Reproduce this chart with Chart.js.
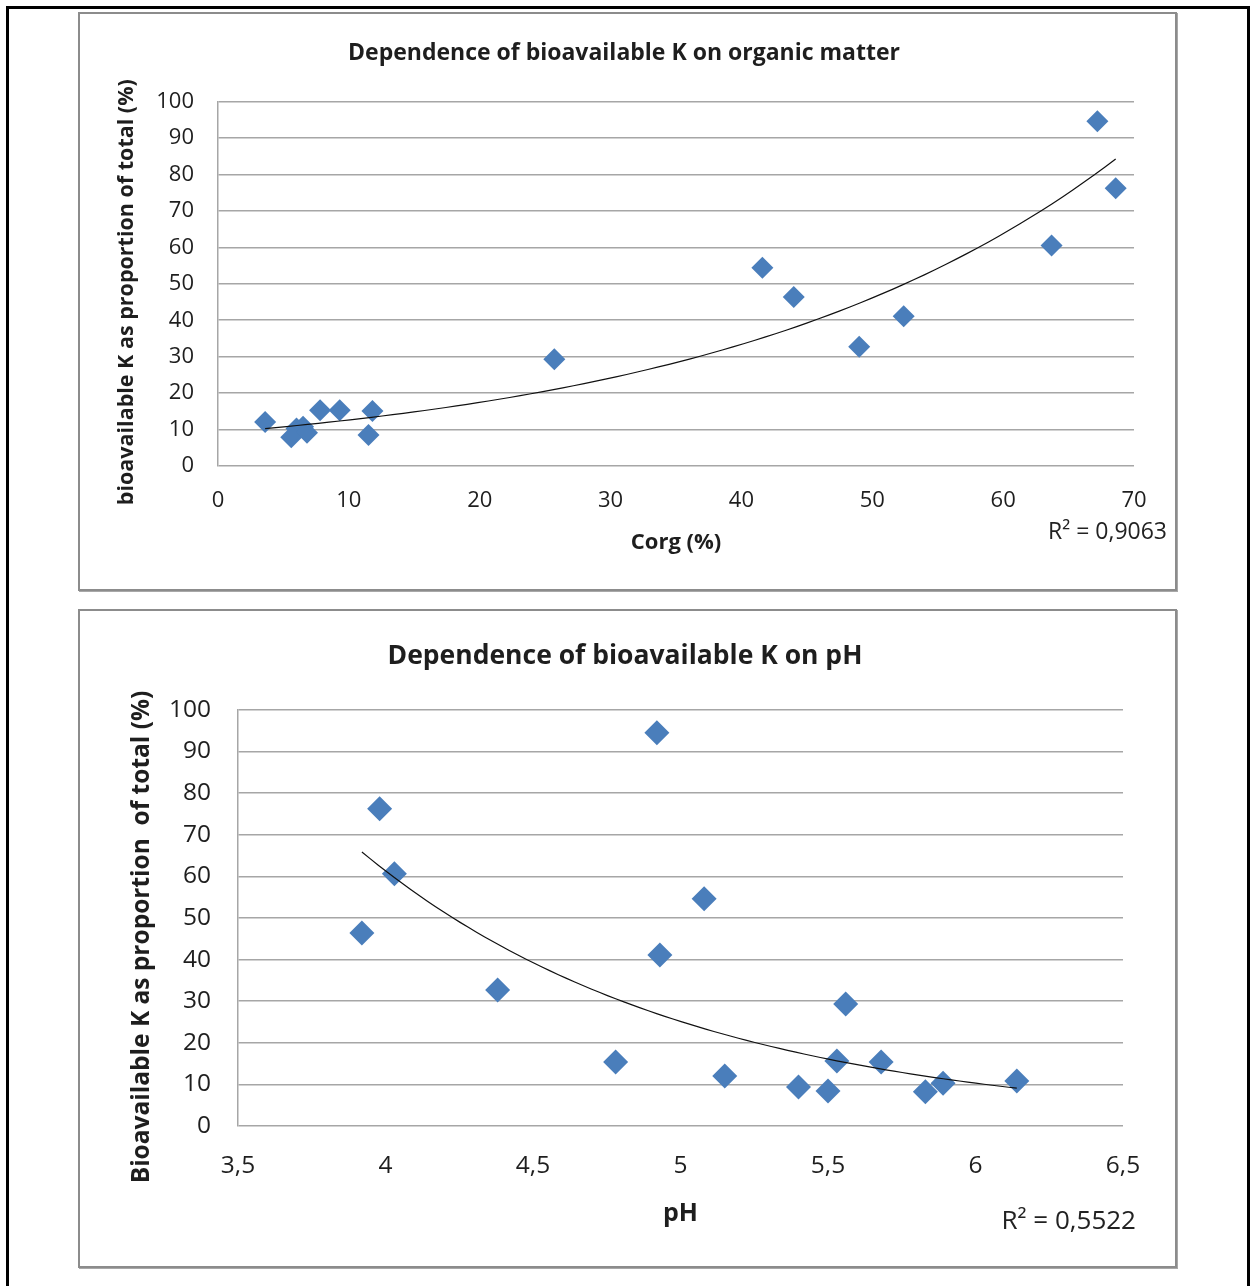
<!DOCTYPE html>
<html>
<head>
<meta charset="utf-8">
<script src="https://cdn.jsdelivr.net/npm/chart.js@4.4.1/dist/chart.umd.min.js"></script>
<style>
  body { margin: 0; background: #fff; font-family: "Open Sans", sans-serif; }
  #page { position: relative; width: 1254px; height: 1286px; overflow: hidden; }
  #frame { position: absolute; left: 6px; top: 6px; width: 1238px; height: 1300px; border: 3px solid #000; }
  .box { position: absolute; left: 78px; width: 1095px; border: 2px solid #8c8c8c; box-shadow: 1px 1px 0 #a8a8a8; background: #fff; }
  .box canvas { display: block; }
  .r2 { position: absolute; color: #222; text-align: right; white-space: nowrap; }
</style>
</head>
<body>
<div id="page">
  <div id="frame"></div>
  <div class="box" style="top:12px;height:575px;"><canvas id="chartOrg" width="1095" height="575"></canvas></div>
  <div class="box" style="top:609px;height:655px;"><canvas id="chartPh" width="1095" height="655"></canvas></div>
  <div class="r2" style="left:967px;top:516px;width:200px;font-size:23px;line-height:28px;">R² = 0,9063</div>
  <div class="r2" style="left:936px;top:1203px;width:200px;font-size:26px;line-height:32px;">R² = 0,5522</div>
</div>
<script>
// Corg (%) vs bioavailable K (%)
var corgValues = [3.6, 5.6, 6.0, 6.5, 6.8, 7.8, 9.3, 11.5, 11.8, 25.7, 41.6, 44.0, 49.0, 52.4, 63.7, 67.2, 68.6];
var corgK      = [12.1, 7.9, 10.3, 10.8, 9.1, 15.3, 15.3, 8.5, 15.1, 29.3, 54.4, 46.4, 32.7, 41.1, 60.5, 94.6, 76.2];

// pH vs bioavailable K (%)
var phValues = [3.92, 3.98, 4.03, 4.38, 4.78, 4.92, 4.93, 5.08, 5.15, 5.40, 5.50, 5.53, 5.56, 5.68, 5.83, 5.89, 6.14];
var phK      = [46.4, 76.2, 60.6, 32.7, 15.4, 94.5, 41.1, 54.6, 12.0, 9.4, 8.4, 15.6, 29.3, 15.4, 8.2, 10.3, 10.8];

var yTickLabels = ["0", "10", "20", "30", "40", "50", "60", "70", "80", "90", "100"];
var corgTickLabels = ["0", "10", "20", "30", "40", "50", "60", "70"];
var phTickLabels = ["3,5", "4", "4,5", "5", "5,5", "6", "6,5"];

var markerColor = "#4a7ebb";
var gridColor = "#a6a6a6";
var textColor = "#1e1e1e";

// exponential trendline y = a*e^(b*x), least squares on ln(y) like Excel
function expTrend(xs, ys, steps) {
    var n = xs.length, mx = 0, ml = 0;
    for (var i = 0; i < n; i++) { mx += xs[i]; ml += Math.log(ys[i]); }
    mx /= n; ml /= n;
    var sxy = 0, sxx = 0;
    for (var j = 0; j < n; j++) {
        sxy += (xs[j] - mx) * (Math.log(ys[j]) - ml);
        sxx += (xs[j] - mx) * (xs[j] - mx);
    }
    var b = sxy / sxx, a = Math.exp(ml - b * mx);
    var lo = Math.min.apply(null, xs), hi = Math.max.apply(null, xs);
    var pts = [];
    for (var k = 0; k <= steps; k++) {
        var x = lo + (hi - lo) * k / steps;
        pts.push({ x: x, y: a * Math.exp(b * x) });
    }
    return pts;
}

function makeChart(id, cfg) {
    var points = cfg.xs.map(function (x, i) { return { x: x, y: cfg.ys[i] }; });
    return new Chart(document.getElementById(id).getContext("2d"), {
        type: "scatter",
        data: {
            datasets: [{
                type: "line",
                data: expTrend(cfg.xs, cfg.ys, 80),
                borderColor: "#111",
                borderWidth: 1.2,
                pointRadius: 0,
                fill: false,
                tension: 0
            }, {
                data: points,
                backgroundColor: markerColor,
                borderColor: markerColor,
                pointStyle: "rectRot",
                pointRadius: cfg.marker,
                borderWidth: 0
            }]
        },
        options: {
            responsive: false,
            animation: false,
            layout: { padding: cfg.padding },
            plugins: {
                legend: { display: false },
                tooltip: { enabled: false },
                title: {
                    display: true,
                    text: cfg.title,
                    color: textColor,
                    font: { family: "Open Sans", size: cfg.titleSize, weight: "bold" },
                    padding: cfg.titlePad
                }
            },
            scales: {
                x: {
                    type: "linear",
                    min: cfg.xMin, max: cfg.xMax,
                    grid: { display: false, drawTicks: false },
                    border: { display: false },
                    ticks: {
                        stepSize: cfg.xStep,
                        autoSkip: false,
                        maxRotation: 0,
                        padding: cfg.xTickPad,
                        color: textColor,
                        font: { family: "Open Sans", size: cfg.tickSize },
                        callback: function (v, i) { return cfg.xLabels[i]; }
                    },
                    title: {
                        display: true,
                        text: cfg.xTitle,
                        color: textColor,
                        padding: 0,
                        font: { family: "Open Sans", size: cfg.xTitleSize, weight: "bold" }
                    },
                    afterFit: function (s) { s.height = cfg.xHeight; }
                },
                y: {
                    min: 0, max: 100,
                    grid: { color: gridColor, lineWidth: 1.5, drawTicks: false },
                    border: { display: true, color: gridColor, width: 1.5 },
                    ticks: {
                        stepSize: 10,
                        padding: cfg.yTickPad,
                        color: textColor,
                        font: { family: "Open Sans", size: cfg.tickSize },
                        callback: function (v, i) { return yTickLabels[i]; }
                    },
                    title: {
                        display: true,
                        text: cfg.yTitle,
                        color: textColor,
                        padding: 0,
                        font: { family: "Open Sans", size: cfg.yTitleSize, weight: "bold" }
                    },
                    afterFit: function (s) { s.width = cfg.yWidth; }
                }
            }
        }
    });
}

makeChart("chartOrg", {
    xs: corgValues, ys: corgK, marker: 11,
    title: "Dependence of bioavailable K on organic matter", titleSize: 23,
    titlePad: { top: 26, bottom: 34 },
    padding: { left: 34, right: 41, top: 0, bottom: 33 },
    xMin: 0, xMax: 70, xStep: 10, xLabels: corgTickLabels,
    xTitle: "Corg (%)", xTitleSize: 22, xHeight: 90, xTickPad: 22,
    yTitle: "bioavailable K as proportion of total (%)   ", yTitleSize: 21.5,
    yWidth: 104, yTickPad: 24, tickSize: 22
});

makeChart("chartPh", {
    xs: phValues, ys: phK, marker: 12.5,
    title: "Dependence of bioavailable K on pH", titleSize: 26.5,
    titlePad: { top: 29.5, bottom: 37.5 },
    padding: { left: 47, right: 52, top: 0, bottom: 37 },
    xMin: 3.5, xMax: 6.5, xStep: 0.5, xLabels: phTickLabels,
    xTitle: "pH", xTitleSize: 25, xHeight: 103, xTickPad: 25,
    yTitle: "Bioavailable K as proportion  of total (%)      ", yTitleSize: 24.5,
    yWidth: 111, yTickPad: 27, tickSize: 24.5
});
</script>
</body>
</html>
